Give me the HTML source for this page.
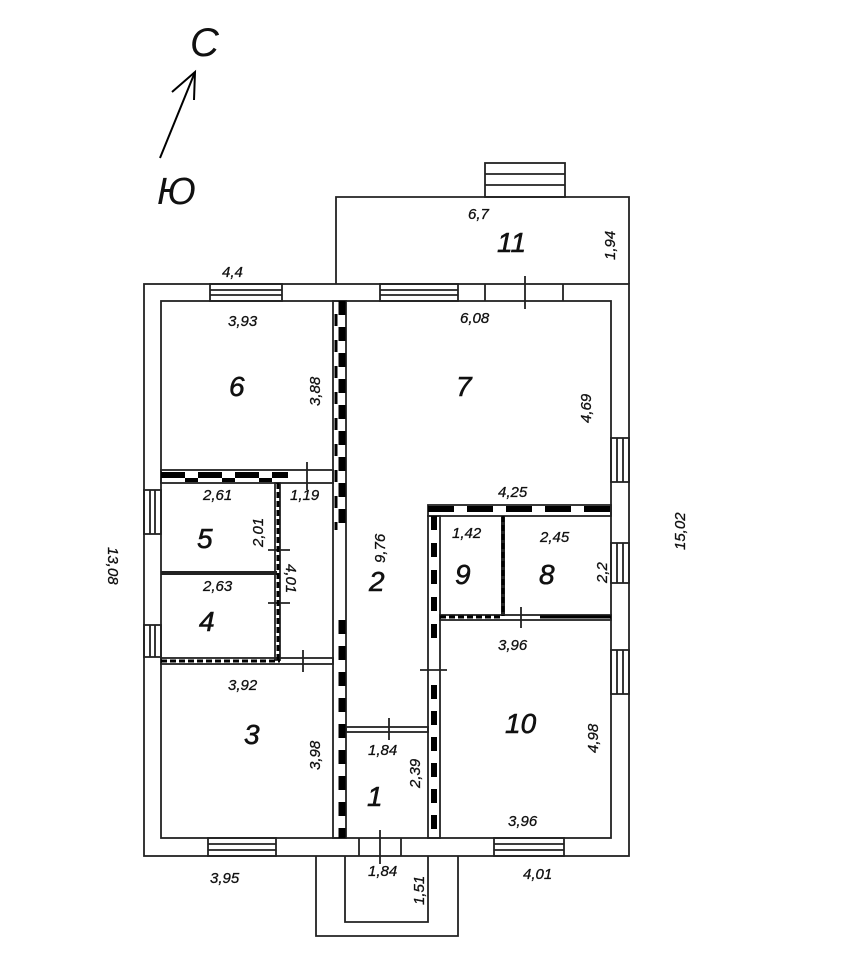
<!DOCTYPE html>
<html><head><meta charset="utf-8"><style>body{margin:0;background:#fff}svg{display:block}text{font-family:"Liberation Sans",sans-serif;font-style:italic;fill:#111}</style></head><body>
<svg width="848" height="960" viewBox="0 0 848 960" xmlns="http://www.w3.org/2000/svg">
<g fill="none" stroke="#222" stroke-width="1.8">
<rect x="144" y="284" width="485" height="572"/>
<rect x="161" y="301" width="450" height="537"/>
<polyline points="336,284 336,197 629,197 629,284"/>
<rect x="485" y="163" width="80" height="34"/>
<line x1="485" y1="174" x2="565" y2="174"/><line x1="485" y1="185" x2="565" y2="185"/>
<polyline points="316,856 316,936 458,936 458,856"/>
<polyline points="345,856 345,922 428,922 428,856"/>
<rect x="210" y="284" width="72" height="17"/><line x1="210" y1="290" x2="282" y2="290"/><line x1="210" y1="295" x2="282" y2="295"/>
<rect x="380" y="284" width="78" height="17"/><line x1="380" y1="290" x2="458" y2="290"/><line x1="380" y1="295" x2="458" y2="295"/>
<line x1="485" y1="284" x2="485" y2="301"/><line x1="563" y1="284" x2="563" y2="301"/><line x1="525" y1="276" x2="525" y2="309"/>
<rect x="208" y="838" width="68" height="18"/><line x1="208" y1="844" x2="276" y2="844"/><line x1="208" y1="850" x2="276" y2="850"/>
<rect x="494" y="838" width="70" height="18"/><line x1="494" y1="844" x2="564" y2="844"/><line x1="494" y1="850" x2="564" y2="850"/>
<line x1="359" y1="838" x2="359" y2="856"/><line x1="401" y1="838" x2="401" y2="856"/><line x1="380" y1="830" x2="380" y2="864"/>
<rect x="144" y="490" width="17" height="44"/><line x1="150" y1="490" x2="150" y2="534"/><line x1="155" y1="490" x2="155" y2="534"/>
<rect x="144" y="625" width="17" height="32"/><line x1="150" y1="625" x2="150" y2="657"/><line x1="155" y1="625" x2="155" y2="657"/>
<rect x="611" y="438" width="18" height="44"/><line x1="617" y1="438" x2="617" y2="482"/><line x1="623" y1="438" x2="623" y2="482"/>
<rect x="611" y="543" width="18" height="40"/><line x1="617" y1="543" x2="617" y2="583"/><line x1="623" y1="543" x2="623" y2="583"/>
<rect x="611" y="650" width="18" height="44"/><line x1="617" y1="650" x2="617" y2="694"/><line x1="623" y1="650" x2="623" y2="694"/>
<rect x="333" y="301" width="13" height="537"/>
<rect x="161" y="470" width="172" height="13"/>
<rect x="275" y="483" width="5" height="177"/>
<line x1="161" y1="573" x2="277" y2="573" stroke-width="4"/>
<rect x="161" y="658" width="172" height="6"/>
<rect x="346" y="727" width="82" height="5"/>
<rect x="428" y="505" width="183" height="11"/>
<rect x="428" y="516" width="12" height="322"/>
<line x1="503" y1="516" x2="503" y2="616" stroke-width="4"/>
<rect x="440" y="615" width="171" height="5"/>
<line x1="307" y1="462" x2="307" y2="490"/>
<line x1="268" y1="550" x2="290" y2="550"/>
<line x1="268" y1="603" x2="290" y2="603"/>
<line x1="303" y1="650" x2="303" y2="672"/>
<line x1="389" y1="718" x2="389" y2="740"/>
<line x1="420" y1="670" x2="447" y2="670"/>
<line x1="521" y1="607" x2="521" y2="628"/>
</g>
<g stroke="#000" fill="none">
<line x1="342" y1="301" x2="342" y2="530" stroke-width="7" stroke-dasharray="14 12"/>
<line x1="342" y1="620" x2="342" y2="838" stroke-width="7" stroke-dasharray="14 12"/>
<line x1="336" y1="301" x2="336" y2="530" stroke-width="3" stroke-dasharray="12 14" stroke-dashoffset="13"/>
<line x1="161" y1="475" x2="288" y2="475" stroke-width="6" stroke-dasharray="24 13"/>
<line x1="161" y1="480" x2="288" y2="480" stroke-width="4" stroke-dasharray="13 24" stroke-dashoffset="-24"/>
<line x1="428" y1="509" x2="611" y2="509" stroke-width="6" stroke-dasharray="26 13"/>
<line x1="434" y1="516" x2="434" y2="650" stroke-width="6" stroke-dasharray="14 13"/>
<line x1="434" y1="685" x2="434" y2="838" stroke-width="6" stroke-dasharray="14 12"/>
<line x1="161" y1="661" x2="280" y2="661" stroke-width="3" stroke-dasharray="6 3"/>
<line x1="278" y1="483" x2="278" y2="660" stroke-width="3" stroke-dasharray="6 3"/>
<line x1="440" y1="617" x2="501" y2="617" stroke-width="3" stroke-dasharray="6 3"/>
<line x1="540" y1="617" x2="611" y2="617" stroke-width="3"/>
<line x1="503" y1="516" x2="503" y2="616" stroke-width="3" stroke-dasharray="6 3"/>
</g>
<g stroke="#000" stroke-width="2" fill="none"><line x1="160" y1="158" x2="195" y2="72"/><polyline points="172,92 195,72 194,100"/></g>
<text x="190" y="56" font-size="40">C</text>
<text x="157" y="204" font-size="38">Ю</text>
<g font-size="28" stroke="#111" stroke-width="0.6"><text x="229" y="396">6</text><text x="456" y="396">7</text><text x="497" y="252">11</text><text x="197" y="548">5</text><text x="199" y="631">4</text><text x="369" y="591">2</text><text x="244" y="744">3</text><text x="455" y="584">9</text><text x="539" y="584">8</text><text x="505" y="733">10</text><text x="367" y="806">1</text></g>
<g font-size="15" stroke="#111" stroke-width="0.3">
<text x="222" y="277">4,4</text><text x="228" y="326">3,93</text><text x="468" y="219">6,7</text><text x="460" y="323">6,08</text>
<text x="203" y="500">2,61</text><text x="290" y="500">1,19</text><text x="203" y="591">2,63</text><text x="228" y="690">3,92</text>
<text x="498" y="497">4,25</text><text x="452" y="538">1,42</text><text x="540" y="542">2,45</text><text x="498" y="650">3,96</text>
<text x="368" y="755">1,84</text><text x="508" y="826">3,96</text><text x="368" y="876">1,84</text><text x="210" y="883">3,95</text><text x="523" y="879">4,01</text>
<text transform="translate(320,406) rotate(-90)">3,88</text>
<text transform="translate(615,260) rotate(-90)">1,94</text>
<text transform="translate(591,423) rotate(-90)">4,69</text>
<text transform="translate(385,563) rotate(-90)">9,76</text>
<text transform="translate(263,547) rotate(-90)">2,01</text>
<text transform="translate(286,564) rotate(90)">4,01</text>
<text transform="translate(108,547) rotate(90)">13,08</text>
<text transform="translate(685,550) rotate(-90)">15,02</text>
<text transform="translate(607,583) rotate(-90)">2,2</text>
<text transform="translate(320,770) rotate(-90)">3,98</text>
<text transform="translate(420,788) rotate(-90)">2,39</text>
<text transform="translate(598,753) rotate(-90)">4,98</text>
<text transform="translate(424,905) rotate(-90)">1,51</text>
</g>
</svg>
</body></html>
